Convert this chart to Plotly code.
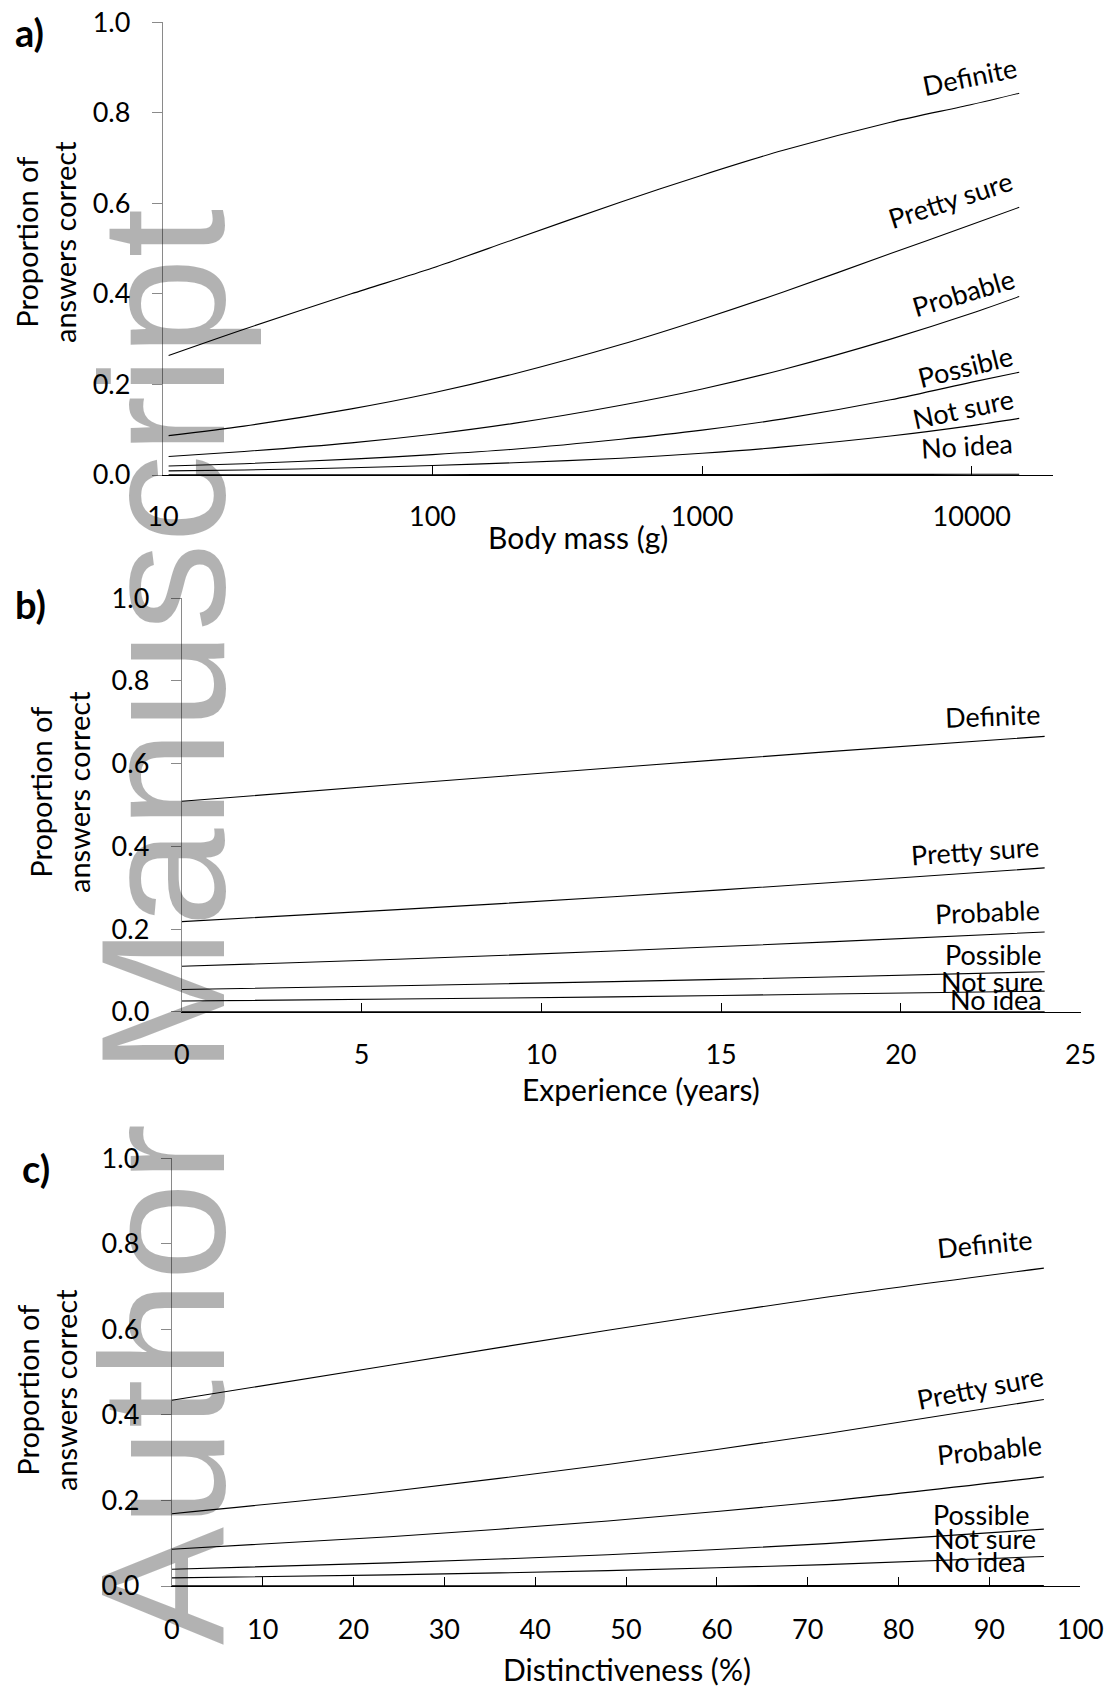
import math
import plotly.graph_objects as go

W, H = 1111, 1686

# ---- data -------------------------------------------------------------
categories = ["Definite", "Pretty sure", "Probable", "Possible", "Not sure", "No idea"]

# a) body mass (g)
mass_g = [10.5, 20, 50, 100, 200, 500, 1000, 2000, 5000, 10000, 15000]
a_definite = [0.264, 0.322, 0.400, 0.457, 0.520, 0.603, 0.662, 0.717, 0.779, 0.818, 0.843]
a_pretty_sure = [0.087, 0.108, 0.146, 0.181, 0.223, 0.288, 0.344, 0.404, 0.489, 0.553, 0.591]
a_probable = [0.041, 0.052, 0.071, 0.090, 0.114, 0.154, 0.190, 0.233, 0.300, 0.357, 0.394]
a_possible = [0.020, 0.025, 0.035, 0.045, 0.057, 0.079, 0.099, 0.124, 0.166, 0.205, 0.227]
a_not_sure = [0.009, 0.011, 0.016, 0.021, 0.027, 0.037, 0.048, 0.062, 0.086, 0.109, 0.125]
a_no_idea = [0.0005, 0.0005, 0.0006, 0.0007, 0.0008, 0.0009, 0.001, 0.0012, 0.0014, 0.0016, 0.0018]

# b) experience (years)
years = [0, 6, 12, 18, 24]
b_definite = [0.509, 0.550, 0.590, 0.629, 0.666]
b_pretty_sure = [0.218, 0.247, 0.278, 0.312, 0.348]
b_probable = [0.110, 0.127, 0.147, 0.169, 0.193]
b_possible = [0.054, 0.063, 0.073, 0.084, 0.097]
b_not_sure = [0.026, 0.031, 0.036, 0.043, 0.050]
b_no_idea = [0.0005, 0.0006, 0.0007, 0.0008, 0.0009]

# c) distinctiveness (%)
distinct = [0, 24, 48, 72, 96]
c_definite = [0.434, 0.516, 0.598, 0.675, 0.743]
c_pretty_sure = [0.169, 0.221, 0.284, 0.356, 0.436]
c_probable = [0.086, 0.115, 0.152, 0.198, 0.255]
c_possible = [0.039, 0.054, 0.073, 0.099, 0.133]
c_not_sure = [0.019, 0.026, 0.036, 0.050, 0.069]
c_no_idea = [0.0005, 0.0006, 0.0007, 0.0008, 0.0009]

y_ticks = [0, 0.2, 0.4, 0.6, 0.8, 1.0]
a_ticks = [10, 100, 1000, 10000]
b_ticks = [0, 5, 10, 15, 20, 25]
c_ticks = [0, 10, 20, 30, 40, 50, 60, 70, 80, 90, 100]

# ---- layout helpers ---------------------------------------------------
FONT = "Lato, 'Open Sans', sans-serif"


def px_x(p):
    return p / W


def px_y(p):
    return 1 - p / H


panels = [
    # suffix, x data, series list, (left, right, top, bottom) in px
    dict(s="", x=mass_g, series=[a_definite, a_pretty_sure, a_probable, a_possible, a_not_sure, a_no_idea],
         box=(162.9, 1052.9, 22.1, 475.0)),
    dict(s="2", x=years, series=[b_definite, b_pretty_sure, b_probable, b_possible, b_not_sure, b_no_idea],
         box=(181.8, 1080.6, 598.2, 1011.8)),
    dict(s="3", x=distinct, series=[c_definite, c_pretty_sure, c_probable, c_possible, c_not_sure, c_no_idea],
         box=(171.8, 1080.2, 1158.2, 1586.0)),
]

fig = go.Figure()
for p in panels:
    for name, vals in zip(categories, p["series"]):
        fig.add_trace(go.Scatter(
            x=p["x"], y=vals, mode="lines", name=name,
            line=dict(color="black", width=1.1, shape="spline", smoothing=0.8),
            xaxis="x" + p["s"], yaxis="y" + p["s"], showlegend=False,
            hoverinfo="skip",
        ))

layout = dict(
    width=W, height=H, autosize=False,
    margin=dict(l=0, r=0, t=0, b=0, pad=0),
    paper_bgcolor="white", plot_bgcolor="white",
    font=dict(family=FONT, size=27, color="black"),
    showlegend=False,
)

x_specs = [
    dict(type="log", range=[1, math.log10(20000)], tickvals=a_ticks,
         ticktext=[str(t) for t in a_ticks], standoff=17),
    dict(type="linear", range=[0, 25], tickvals=b_ticks, standoff=19),
    dict(type="linear", range=[0, 100], tickvals=c_ticks, standoff=19),
]

for p, xs in zip(panels, x_specs):
    l, r, t, b = p["box"]
    s = p["s"]
    xa = dict(
        domain=[px_x(l), px_x(r)], anchor="y" + s, automargin=False,
        type=xs["type"], range=xs["range"], tickvals=xs["tickvals"],
        showline=True, linecolor="black", linewidth=1.4,
        ticks="inside", ticklen=9, tickcolor="black", tickwidth=1.2,
        showgrid=False, zeroline=False, ticklabelstandoff=xs["standoff"],
        tickfont=dict(size=27, family=FONT),
    )
    if "ticktext" in xs:
        xa["ticktext"] = xs["ticktext"]
    ya = dict(
        domain=[px_y(b), px_y(t)], anchor="x" + s, automargin=False,
        range=[0, 1], tickvals=y_ticks, tickformat=".1f",
        showline=True, linecolor="#8a8a8a", linewidth=1.2,
        ticks="outside", ticklen=10, tickcolor="#8a8a8a", tickwidth=1,
        showgrid=False, zeroline=False, ticklabelstandoff=16,
        tickfont=dict(size=27, family=FONT),
    )
    layout["xaxis" + s] = xa
    layout["yaxis" + s] = ya

fig.update_layout(**layout)

# ---- curve labels, placed relative to the end of each series ---------
label_specs = [
    # angle, xshift, yshift per category
    [(-11.5, -50, 17), (-18, -69, 8), (-16.5, -56, 4), (-14, -54, 6), (-12, -56, 10), (-3.5, -52, 29)],
    [(-2.2, -52, 21), (-4, -70, 17), (-2.4, -57, 20), (0, -52, 17), (0, -53, 10), (0, -49, 12)],
    [(-5.6, -59, 25), (-11, -64, 12), (-5.8, -54, 27), (0, -63, 15), (0, -59, 18), (0, -64, 24)],
]

annotations = []
for p, specs in zip(panels, label_specs):
    s = p["s"]
    x_end = p["x"][-1]
    if s == "":
        x_end = math.log10(x_end)
    for name, vals, (ang, dx, dy) in zip(categories, p["series"], specs):
        annotations.append(dict(
            x=x_end, y=vals[-1], xref="x" + s, yref="y" + s,
            text=name, showarrow=False, textangle=ang,
            xanchor="center", yanchor="middle", xshift=dx, yshift=dy,
            font=dict(size=27, family=FONT, color="black"),
        ))

# axis titles and panel letters
y_title = "Proportion of<br>answers correct"
for cx, cy in [(46, 242), (59, 792), (46, 1390)]:
    annotations.append(dict(
        x=px_x(cx), y=px_y(cy), xref="paper", yref="paper", text=y_title,
        showarrow=False, textangle=-90, xanchor="center", yanchor="middle",
        font=dict(size=29, family=FONT, color="black"),
    ))

for txt, cx, cy in [("Body mass (g)", 578, 537), ("Experience (years)", 641, 1089),
                    ("Distinctiveness (%)", 627, 1669)]:
    annotations.append(dict(
        x=px_x(cx), y=px_y(cy), xref="paper", yref="paper", text=txt,
        showarrow=False, xanchor="center", yanchor="middle",
        font=dict(size=30, family=FONT, color="black"),
    ))

for txt, cx, cy in [("a)", 29, 32), ("b)", 30, 604), ("c)", 36, 1168)]:
    annotations.append(dict(
        x=px_x(cx), y=px_y(cy), xref="paper", yref="paper", text="<b>%s</b>" % txt,
        showarrow=False, xanchor="center", yanchor="middle",
        font=dict(size=38, family=FONT, color="black"),
    ))

# vertical "Author Manuscript" stamp down the left side
annotations.append(dict(
    x=px_x(163), y=px_y(927), xref="paper", yref="paper", text="Author Manuscript",
    showarrow=False, textangle=-90, xanchor="center", yanchor="middle",
    font=dict(size=177, family="'Liberation Sans', Arial, sans-serif", color="rgba(0,0,0,0.3)"),
))

fig.update_layout(annotations=annotations)
fig.write_html("out.html")
